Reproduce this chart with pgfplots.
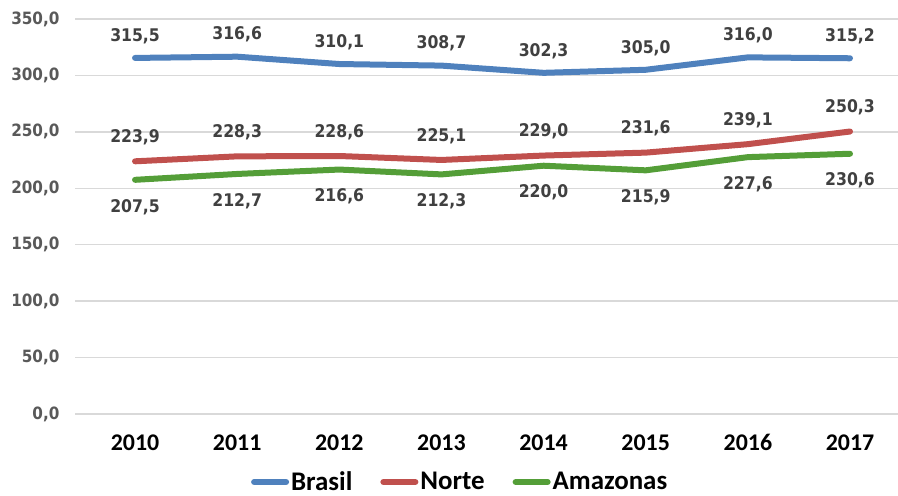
\documentclass[border=0pt]{standalone}
\usepackage{fontspec}
\setmainfont{DejaVu Sans Condensed}
\newfontfamily\carl{Carlito}
\usepackage{pgfplots}
\pgfplotsset{compat=1.18}
\definecolor{cblue}{RGB}{79,129,189}
\definecolor{cred}{RGB}{192,80,77}
\definecolor{cgreen}{RGB}{84,158,56}
\definecolor{cgrid}{RGB}{217,217,217}
\definecolor{ctick}{RGB}{89,89,89}
\definecolor{clab}{RGB}{64,64,64}
\begin{document}
\begin{tikzpicture}
\useasboundingbox (0,0) rectangle (898bp,496bp);
\begin{axis}[
  at={(75bp,82bp)}, anchor=south west,
  scale only axis, width=823bp, height=395bp,
  xmin=-0.588, xmax=7.47, ymin=0, ymax=350,
  axis line style={draw=none},
  major tick length=0pt,
  xtick={0,...,7},
  xticklabels={2010,2011,2012,2013,2014,2015,2016,2017},
  xticklabel style={font=\carl\bfseries\fontsize{24}{24}\selectfont, text=black, yshift=-17bp},
  ytick={0,50,...,350},
  yticklabel style={font=\bfseries\fontsize{17}{17}\selectfont, text=ctick, xshift=-12bp},
  /pgf/number format/assume math mode=true,
  /pgf/number format/fixed,
  /pgf/number format/fixed zerofill,
  /pgf/number format/precision=1,
  /pgf/number format/use comma,
  /pgf/number format/1000 sep={},
  ymajorgrids, grid style={cgrid, line width=1.3bp},
  every axis plot/.append style={line width=6bp, line join=round, line cap=round},
  nodes near coords,
  nodes near coords style={font=\bfseries\fontsize{17.5}{17.5}\selectfont, text=clab, anchor=center},
  legend columns=3,
  legend style={at={(0.468,-0.172)}, anchor=center, draw=none, fill=none,
    font=\carl\bfseries\fontsize{27}{27}\selectfont,
    /tikz/every even column/.append style={column sep=26bp}},
  legend image code/.code={\draw[#1, line cap=round, line width=6bp] (0bp,0bp) -- (32bp,0bp);},
  clip=false,
]
\addplot[cblue, nodes near coords style={yshift=22bp}] coordinates {(0,315.5)(1,316.6)(2,310.1)(3,308.7)(4,302.3)(5,305.0)(6,316.0)(7,315.2)};
\addlegendentry{Brasil}
\addplot[cred, nodes near coords style={yshift=24bp}] coordinates {(0,223.9)(1,228.3)(2,228.6)(3,225.1)(4,229.0)(5,231.6)(6,239.1)(7,250.3)};
\addlegendentry{Norte}
\addplot[cgreen, nodes near coords style={yshift=-27bp}] coordinates {(0,207.5)(1,212.7)(2,216.6)(3,212.3)(4,220.0)(5,215.9)(6,227.6)(7,230.6)};
\addlegendentry{Amazonas}
\end{axis}
\end{tikzpicture}
\end{document}
